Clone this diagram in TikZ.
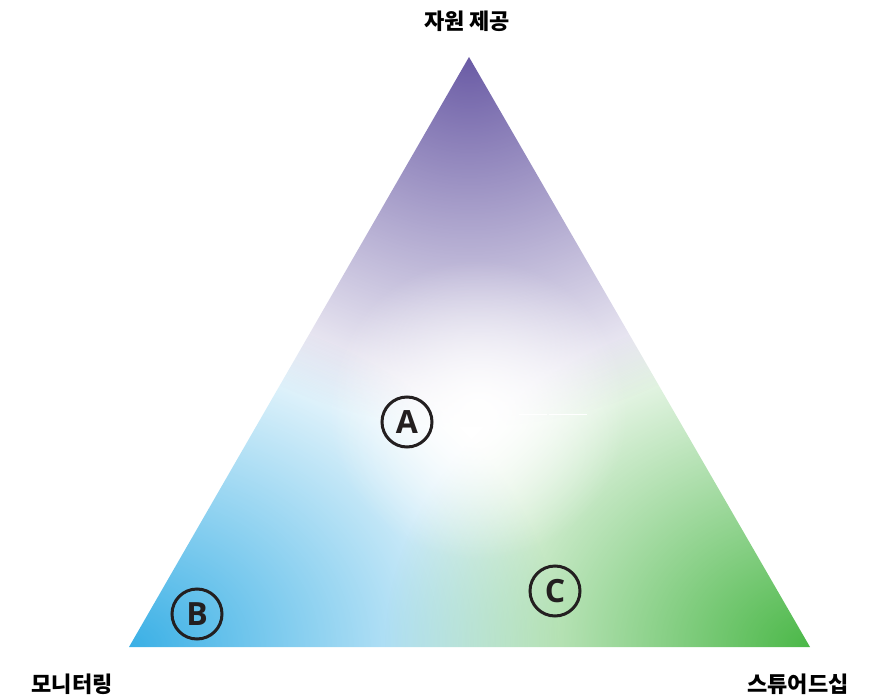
\documentclass[tikz,border=0pt]{standalone}
\usepackage{fontspec}
\newfontfamily\kr{Noto Sans CJK KR}
\newfontfamily\lat{Open Sans}
\usetikzlibrary{fadings}
\tikzfading[name=glowfade, inner color=transparent!0, outer color=transparent!100]
\definecolor{cpurple}{HTML}{6A5BA5}
\definecolor{cblue}{HTML}{3AB0E6}
\definecolor{cgreen}{HTML}{4BB848}
\definecolor{cink}{HTML}{231F20}
\tikzset{
  circ/.style={circle, draw=cink, line width=3pt, minimum size=50pt, inner sep=0pt,
    text=cink, font=\lat\bfseries\fontsize{32}{32}\selectfont},
  lab/.style={text=black, font=\kr\bfseries\fontsize{22}{22}\selectfont, inner sep=0pt}
}
\begin{document}
\begin{tikzpicture}[x=1pt,y=-1pt]
\useasboundingbox (0,0) rectangle (886,698);
\coordinate (T) at (469,57);
\coordinate (L) at (129,647);
\coordinate (R) at (810,647);
\fill[white] (T) -- (L) -- (R) -- cycle;
\begin{scope}
  \clip (T) -- (L) -- (R) -- cycle;
  \fill[cblue, path fading=glowfade] (L) ellipse [x radius=430, y radius=345];
  \fill[cgreen, path fading=glowfade] (R) ellipse [x radius=425, y radius=345];
  \fill[cpurple, path fading=glowfade] (T) ellipse [x radius=410, y radius=370];
  \fill[white, path fading=glowfade] (478,410) circle (150);
\end{scope}
\coordinate (w1) at (519,414);
\coordinate (w2) at (547,414);
\coordinate (w3) at (549,414);
\coordinate (w4) at (587,414);
\draw[white, line width=1pt] (w1) -- (w2) (w3) -- (w4);
\node[circ] (A) at (407,422) {A};
\node[circ] (B) at (197,614) {B};
\node[circ] (C) at (555,591) {C};
\node[lab] (top) at (467,21) {자원 제공};
\node[lab] (left) at (72,684) {모니터링};
\node[lab] (right) at (798,684) {스튜어드십};
\end{tikzpicture}
\end{document}
